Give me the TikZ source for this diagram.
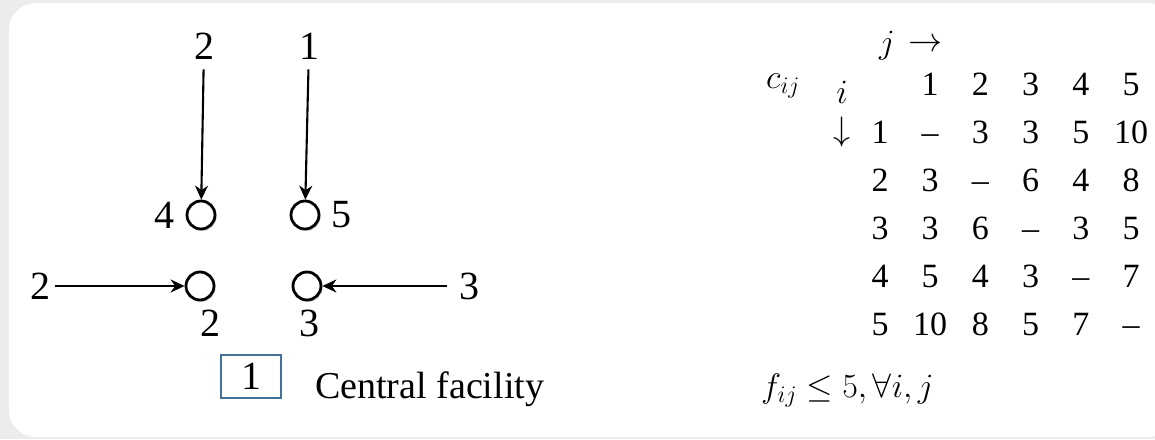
\RequirePackage{fix-cm}
\documentclass[tikz,border=0pt]{standalone}
\usepackage{amsmath}
\usepackage{fontspec}
\setmainfont{Liberation Serif}
\newfontfamily\tnr{Liberation Serif}
\usetikzlibrary{positioning,arrows.meta,shadows}
\definecolor{panelgray}{RGB}{235,236,238}
\definecolor{boxblue}{RGB}{65,113,156}

\begin{document}
\begin{tikzpicture}[x=1pt, y=-1pt,
  site/.style={draw,circle,fill=white,line width=2.8pt,minimum size=28pt,inner sep=0pt,
    drop shadow={shadow xshift=1.5pt,shadow yshift=-2pt,opacity=0.3}},
  num/.style={font=\tnr\fontsize{40}{48}\selectfont,inner sep=2pt},
  cell/.style={font=\tnr\fontsize{34}{40}\selectfont,anchor=base,inner sep=0pt},
  flow/.style={-{Stealth[length=14pt,width=13pt]},line width=2.1pt}]
  \useasboundingbox (0,0) rectangle (1155,439);
  \fill[panelgray] (0,0) rectangle (1155,439);
  \fill[white,rounded corners=27pt] (9,3) rectangle (1175,437);

  % demand points
  \node[site] (s4) at (201,215) {};
  \node[site] (s5) at (305,215) {};
  \node[site] (s2) at (200,286) {};
  \node[site] (s3) at (307,286) {};
  \node[num] (l4) [left=9pt of s4] {4};
  \node[num] (l5) [right=9pt of s5] {5};
  \node[num] (l2) at (210,323) {2};
  \node[num] (l3) at (309,323) {3};

  % incoming flows
  \node[num] (t4) at (204,46) {2};
  \node[num] (t5) at (309,46) {1};
  \node[num] (w2) at (40,286) {2};
  \node[num] (e3) at (469,286) {3};
  \draw[flow,shorten <=8pt] (t4) -- (s4);
  \draw[flow,shorten <=8pt] (t5) -- (s5);
  \draw[flow,shorten <=3pt] (w2) -- (s2);
  \draw[flow,shorten <=10pt] (e3) -- (s3);

  % central facility
  \node[draw=boxblue,line width=1.4pt,minimum width=60pt,minimum height=43pt,
    font=\tnr\fontsize{40}{48}\selectfont] (cf) at (251,376.5) {1};
  \node[font=\tnr\fontsize{38}{46}\selectfont,anchor=base west,inner sep=0pt] (cftext) at (315,398) {Central facility};

  % cost table
  \node[cell,anchor=base west] (cij) at (766,88) {$c_{ij}$};
  \node[cell] (jlab) at (887,53) {$j$};
  \node[cell,anchor=center] (jarr) at (925,45) {$\rightarrow$};
  \node[cell] (ilab) at (842,103) {$i$};
  \node[cell,anchor=center] (iarr) at (842,132) {$\downarrow$};
  \foreach \c in {1,...,5}
    \node[cell] (h\c) at (880+50.2*\c,95) {\c};
  \foreach \row [count=\r] in {{–,3,3,5,10},{3,–,6,4,8},{3,6,–,3,5},{5,4,3,–,7},{10,8,5,7,–}} {
    \node[cell] (r\r) at (880,95+48*\r) {\r};
    \foreach \v [count=\c] in \row
      \node[cell] (m\r\c) at (880+50.2*\c,95+48*\r) {\v};
  }
  \node[cell,anchor=base west] (cap) at (761,397) {$f_{ij}\leq 5, \forall i,j$};
\end{tikzpicture}
\end{document}
